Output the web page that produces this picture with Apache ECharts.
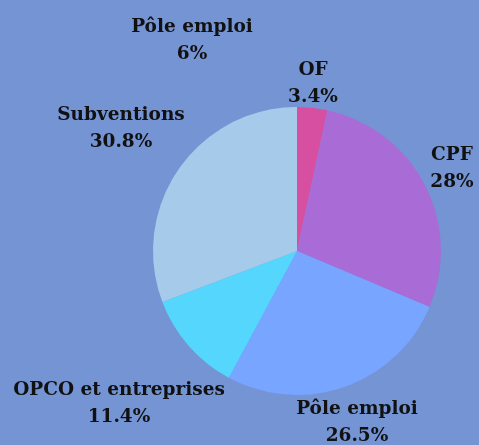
<!DOCTYPE html>
<html>
<head>
<meta charset="utf-8">
<script src="https://cdn.jsdelivr.net/npm/echarts@6/dist/echarts.min.js"></script>
<style>
  html, body { margin: 0; padding: 0; background: #7594d4; }
  #chart { width: 479px; height: 445px; }
</style>
</head>
<body>
<div id="chart"></div>
<script>
// financement (%), ordre horaire depuis le haut
const names = ['OF', 'CPF', 'Pôle emploi', 'OPCO et entreprises', 'Subventions', 'Pôle emploi'];
const values = [3.4, 28, 26.5, 11.4, 30.8, 0];
const shown = ['3.4%', '28%', '26.5%', '11.4%', '30.8%', '6%'];
const colors = ['#d74fa0', '#a96cd6', '#77a5ff', '#55d7fd', '#a6cbea', '#a6cbea'];

// centre des étiquettes (mise en page uniquement)
const labelSpots = [[313, 84], [452, 169], [357, 423], [119, 404], [121, 129], [192, 41]];

const myChart = echarts.init(document.getElementById('chart'));

const data = names.map((n, i) => ({
    name: n,
    value: values[i],
    itemStyle: { color: colors[i] }
}));

myChart.setOption({
    backgroundColor: '#7594d4',
    animation: false,
    series: [{
        type: 'pie',
        center: [297, 251],
        radius: 144,
        startAngle: 90,
        clockwise: true,
        avoidLabelOverlap: false,
        data: data,
        label: {
            show: true,
            position: 'outside',
            overflow: 'none',
            color: '#111',
            formatter: p => '{t|' + p.name + '}\n{t|' + shown[p.dataIndex] + '}',
            rich: {
                t: {
                    align: 'center',
                    color: '#111',
                    fontFamily: 'DejaVu Serif',
                    fontWeight: 'bold',
                    fontSize: 18.5,
                    lineHeight: 27
                }
            }
        },
        labelLine: { show: false },
        labelLayout: p => ({
            x: labelSpots[p.dataIndex][0],
            y: labelSpots[p.dataIndex][1],
            align: 'center',
            verticalAlign: 'middle'
        })
    }]
});
</script>
</body>
</html>
